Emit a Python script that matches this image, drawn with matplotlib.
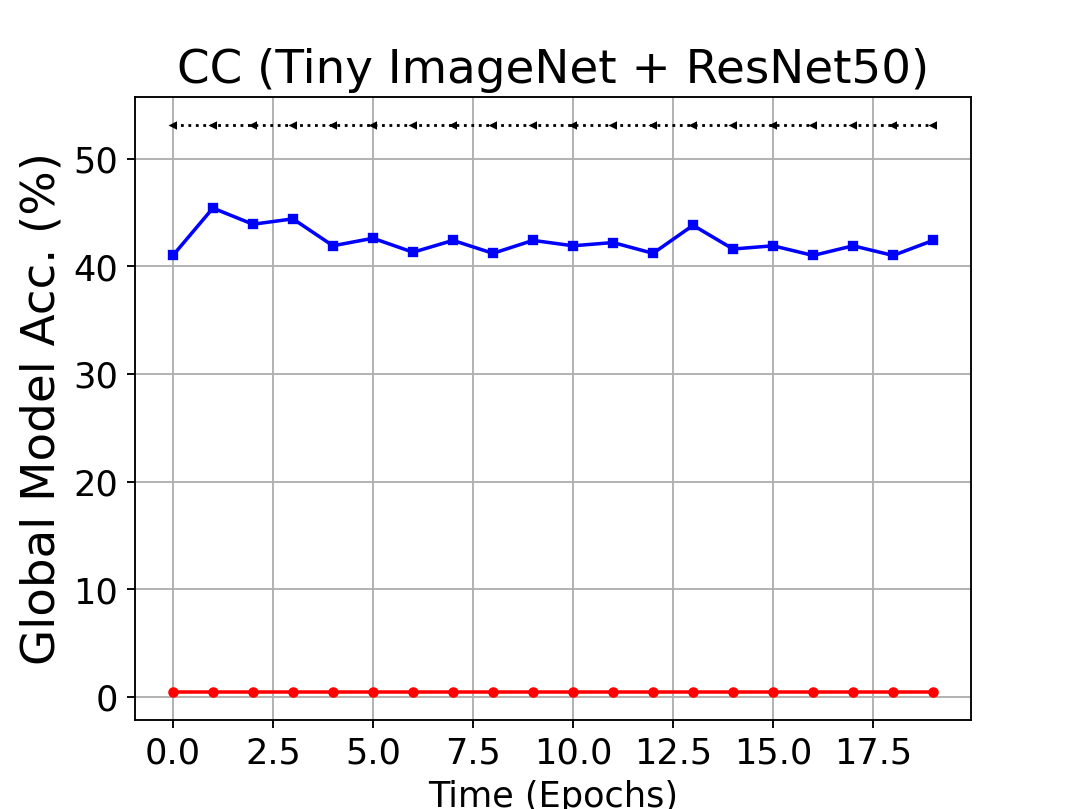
import numpy as np
import matplotlib
matplotlib.use('Agg')
import matplotlib.pyplot as plt

epochs = np.arange(20)
global_acc = [41.0, 45.4, 43.9, 44.4, 41.9, 42.6, 41.3, 42.4, 41.2, 42.4,
              41.9, 42.2, 41.2, 43.8, 41.6, 41.9, 41.0, 41.9, 41.0, 42.4]
attack_acc = [0.5] * 20
upper_acc = [53.1] * 20

fig = plt.figure(figsize=(6.4, 4.8), dpi=168.6)
plt.plot(epochs, upper_acc, 'k:', marker='<', markersize=2, linewidth=1.2)
plt.plot(epochs, global_acc, 'b-', marker='s', markersize=3.5, linewidth=1.5)
plt.plot(epochs, attack_acc, 'r-', marker='o', markersize=3.5, linewidth=1.5)

plt.title("CC (Tiny ImageNet + ResNet50)", fontsize=20)
plt.xlabel("Time (Epochs)", fontsize=15)
plt.ylabel("Global Model Acc. (%)", fontsize=20)
plt.xticks(fontsize=15)
plt.yticks(fontsize=15)
plt.grid(True)
plt.savefig('out.png', dpi=168.6)
